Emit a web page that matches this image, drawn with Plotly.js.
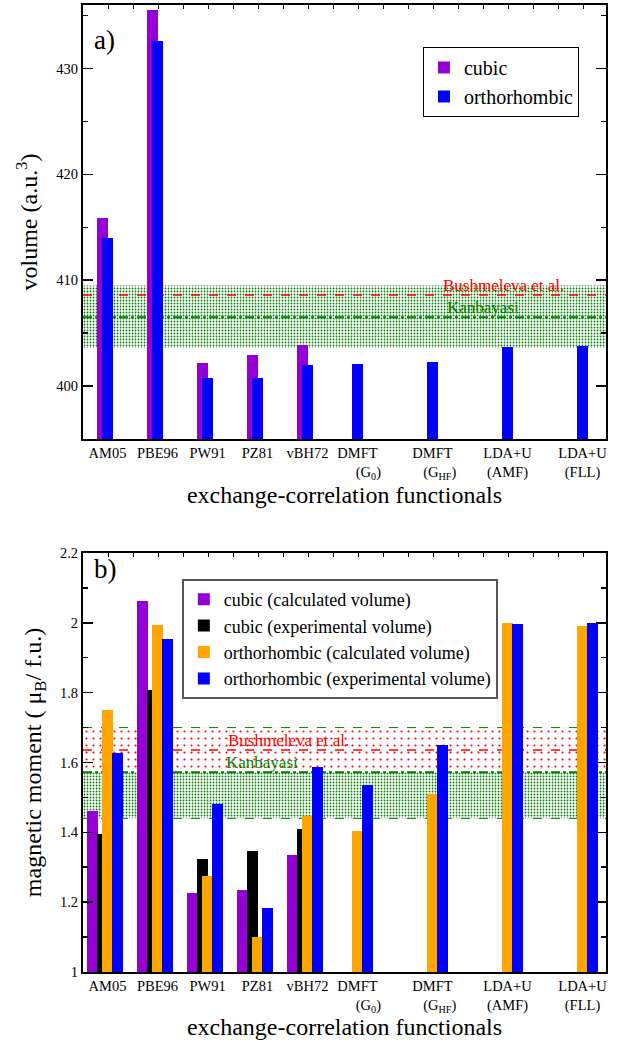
<!DOCTYPE html>
<html>
<head>
<meta charset="utf-8">
<script src="https://cdn.plot.ly/plotly-3.0.1.min.js"></script>
<style>html,body{margin:0;padding:0;background:#fff;}#chart{width:622px;height:1040px;}</style>
</head>
<body>
<div id="chart"></div>
<script>
// ---------- data ----------
const categories = ['AM05','PBE96','PW91','PZ81','vBH72','DMFT (G0)','DMFT (GHF)','LDA+U (AMF)','LDA+U (FLL)'];
const tickLabels = ['AM05','PBE96','PW91','PZ81','vBH72',
  'DMFT<br>\u00a0\u00a0\u00a0\u00a0\u00a0\u00a0(G<sub>0</sub>)',
  'DMFT<br>\u00a0\u00a0\u00a0\u00a0(G<sub>HF</sub>)',
  'LDA+U<br>(AMF)','LDA+U<br>(FLL)'];

// panel a: volume (a.u.^3)
const volCubic = [415.9, 435.5, 402.2, 402.9, 403.9, null, null, null, null];
const volOrtho = [414.0, 432.6, 400.8, 400.8, 401.95, 402.1, 402.3, 403.65, 403.75];
const volBushmeleva = 408.6;
const volKanbayasi = 406.5;
const volKanbayasiBand = [403.6, 409.5];

// panel b: magnetic moment (mu_B / f.u.)
const momCubicCalc = [1.461, 2.063, 1.226, 1.235, 1.335, null, null, null, null];
const momCubicExp  = [1.395, 1.808, 1.324, 1.347, 1.410, null, null, null, null];
const momOrthoCalc = [1.751, 1.994, 1.275, 1.100, 1.447, 1.404, 1.510, 2.000, 1.991];
const momOrthoExp  = [1.627, 1.955, 1.482, 1.183, 1.588, 1.536, 1.650, 1.997, 2.000];
const momBushmeleva = 1.636;
const momBushmelevaBand = [1.572, 1.700];
const momKanbayasi = 1.572;
const momKanbayasiBand = [1.440, 1.700];

// ---------- layout helpers (positions, not data) ----------
const slot = [1, 2, 3, 4, 5, 6, 7.5, 9, 10.5];
const XR = [0.61, 11.07];
const shift = d => slot.map(s => s + d);
const FONT = "'Liberation Serif', 'Times New Roman', Times, serif";

function band(lo, hi, color, size, solidity, xa, ya, bg) {
  return {x:[XR[0],XR[1],XR[1],XR[0],XR[0]], y:[lo,lo,hi,hi,lo], xaxis:xa, yaxis:ya,
    type:'scatter', mode:'lines', line:{width:0}, fill:'toself', fillcolor:'rgba(0,0,0,0)',
    fillpattern:{shape:'.', fgcolor:color, bgcolor:bg||'rgba(0,0,0,0)', size:size, solidity:solidity, fillmode:'replace'},
    hoverinfo:'skip', showlegend:false};
}
function hline(v, color, dash, w, xa, ya) {
  return {x:[XR[0],XR[1]], y:[v,v], xaxis:xa, yaxis:ya, type:'scatter', mode:'lines',
    line:{color:color, dash:dash, width:w}, hoverinfo:'skip', showlegend:false};
}
function bars(vals, dx, color, name, width, xa, ya, leg) {
  return {type:'bar', x:shift(dx), y:vals, width:width, name:name, marker:{color:color, line:{width:0}},
    xaxis:xa, yaxis:ya, legend:leg, customdata:categories, hovertemplate:'%{customdata}: %{y}<extra>'+name+'</extra>'};
}

const traces = [
  // panel a: reference bands and lines (base subplot, drawn below bars)
  band(volKanbayasiBand[0], volKanbayasiBand[1], 'green', 3, 0.28, 'x', 'y'),
  hline(volBushmeleva, 'red', 'dash', 1.6, 'x', 'y'),
  hline(volKanbayasi, 'green', 'dashdot', 2, 'x', 'y'),
  // panel b
  band(momKanbayasiBand[0], momKanbayasiBand[1], 'green', 3, 0.28, 'x2', 'y2'),
  band(momBushmelevaBand[0], momBushmelevaBand[1], 'red', 7, 0.07, 'x2', 'y2', '#ffffff'),
  hline(momKanbayasiBand[1], 'green', 'dash', 1, 'x2', 'y2'),
  hline(momKanbayasiBand[0], 'green', 'dash', 1, 'x2', 'y2'),
  hline(momBushmeleva, 'red', 'dash', 1.6, 'x2', 'y2'),
  hline(momKanbayasi, 'green', 'dashdot', 2, 'x2', 'y2'),
  // bars on overlaying subplots (drawn above)
  bars(volCubic, 0, '#9400D3', 'cubic', 0.22, 'x3', 'y3', 'legend'),
  bars(volOrtho, 0.1, '#0000FF', 'orthorhombic', 0.22, 'x3', 'y3', 'legend'),
  bars(momCubicCalc, -0.2, '#9400D3', 'cubic (calculated volume)', 0.21, 'x4', 'y4', 'legend2'),
  bars(momCubicExp, 0, '#000000', 'cubic (experimental volume)', 0.21, 'x4', 'y4', 'legend2'),
  bars(momOrthoCalc, 0.1, '#FFA500', 'orthorhombic (calculated volume)', 0.21, 'x4', 'y4', 'legend2'),
  bars(momOrthoExp, 0.3, '#0000FF', 'orthorhombic (experimental volume)', 0.21, 'x4', 'y4', 'legend2'),
];

const topTicks = [];
for (let v = 1.11; v < XR[1]; v += 0.5) topTicks.push(+v.toFixed(2));

const tickFont = {family:FONT, size:14.5, color:'#000'};
function xax(anchor) {
  return {range:XR, anchor:anchor, tickmode:'array', tickvals:shift(0.1), ticktext:tickLabels,
    ticks:'', showline:true, linewidth:2, linecolor:'#000', mirror:true, showgrid:false, zeroline:false,
    tickfont:tickFont, title:{text:'exchange-correlation functionals', font:{family:FONT, size:24, color:'#000'}, standoff:1}};
}
function topax(anchor, over) {
  return {range:XR, anchor:anchor, overlaying:over, side:'top', tickmode:'array', tickvals:topTicks,
    ticks:'inside', ticklen:4, tickwidth:1, tickcolor:'#000', showticklabels:false, showline:false,
    showgrid:false, zeroline:false};
}
function ovy(anchor, over, range) {
  return {range:range, anchor:anchor, overlaying:over, side:'left', showticklabels:false, ticks:'',
    showline:false, showgrid:false, zeroline:false};
}
function yax(domain, range, dtick, tick0, minor, title) {
  return {domain:domain, range:range, dtick:dtick, tick0:tick0, ticks:'inside', ticklen:10, tickwidth:1.5,
    tickcolor:'#000', minor:{dtick:minor, ticks:'inside', ticklen:5, tickcolor:'#000'}, showline:true, linewidth:2,
    linecolor:'#000', mirror:'ticks', showgrid:false, zeroline:false, tickfont:tickFont,
    title:{text:title, font:{family:FONT, size:24, color:'#000'}, standoff:12}};
}

const YR1 = [395, 436], YR2 = [1, 2.2];
const layout = {
  width:622, height:1040, paper_bgcolor:'#fff', plot_bgcolor:'#fff',
  margin:{l:83, r:16, t:5, b:68}, barmode:'overlay', bargap:0,
  font:{family:FONT, color:'#000'},
  xaxis: xax('y'),
  xaxis2: xax('y2'),
  xaxis3: topax('y3', 'x'),
  xaxis4: topax('y4', 'x2'),
  yaxis: yax([0.5512, 1], YR1, 10, 400, 5, 'volume (a.u.<sup>3</sup>)'),
  yaxis2: yax([0, 0.4333], YR2, 0.2, 1, 0.1, 'magnetic moment ( \u03bc<sub>B</sub>/ f.u.)'),
  yaxis3: ovy('x3', 'y', YR1),
  yaxis4: ovy('x4', 'y2', YR2),
  legend: {x:0.65, y:0.9566, xanchor:'left', yanchor:'top', bgcolor:'#fff', bordercolor:'#000', borderwidth:1,
    font:{family:FONT, size:20, color:'#000'}, itemwidth:30, tracegroupgap:0},
  legend2: {x:0.189, y:0.4064, xanchor:'left', yanchor:'top', bgcolor:'#fff', bordercolor:'#555', borderwidth:2,
    font:{family:FONT, size:18, color:'#000'}, itemwidth:30, tracegroupgap:0},
  annotations: [
    {text:'a)', xref:'paper', yref:'paper', x:(92-83)/523, y:(972-23)/967, xanchor:'left', yanchor:'top', showarrow:false,
      font:{family:FONT, size:27, color:'#000'}},
    {text:'b)', xref:'paper', yref:'paper', x:(92-83)/523, y:(972-552)/967, xanchor:'left', yanchor:'top', showarrow:false,
      font:{family:FONT, size:27, color:'#000'}},
    {text:'Bushmeleva et al.', xref:'x', yref:'y', x:9.01, y:volBushmeleva, yshift:10, showarrow:false,
      font:{family:FONT, size:17, color:'red'}},
    {text:'Kanbayasi', xref:'x', yref:'y', x:8.6, y:volKanbayasi, yshift:10, showarrow:false,
      font:{family:FONT, size:17, color:'green'}},
    {text:'Bushmeleva et al.', xref:'x2', yref:'y2', x:4.71, y:momBushmeleva, yshift:9, showarrow:false,
      font:{family:FONT, size:17, color:'red'}},
    {text:'Kanbayasi', xref:'x2', yref:'y2', x:4.18, y:momKanbayasi, yshift:10, showarrow:false,
      font:{family:FONT, size:17, color:'green'}},
  ]
};

Plotly.newPlot('chart', traces, layout, {displayModeBar:false, staticPlot:true});
</script>
</body>
</html>
